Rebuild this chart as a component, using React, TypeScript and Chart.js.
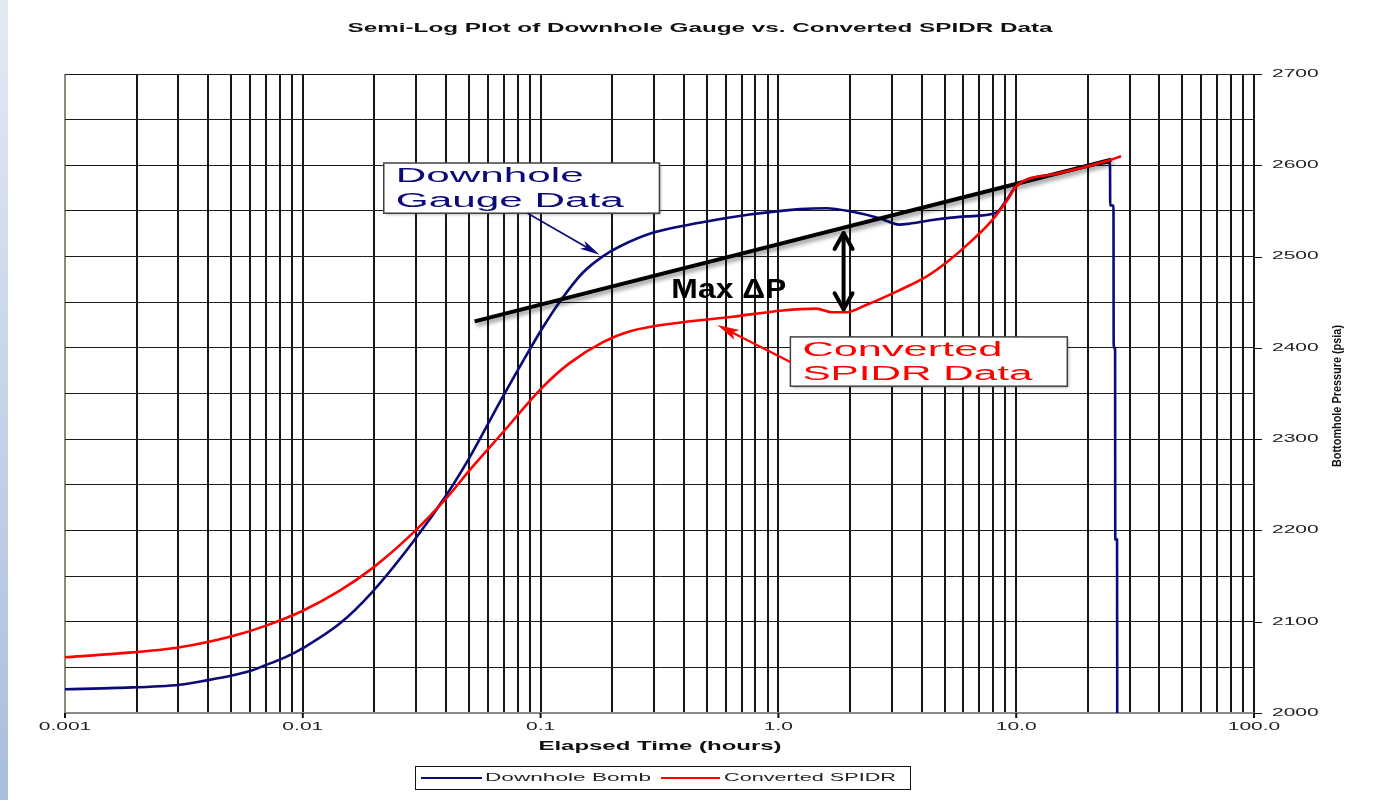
import React, { useEffect, useRef } from "react";
import { Chart, registerables } from "chart.js";

Chart.register(...registerables);

// ---------------- DATA ----------------
const downholeTime = [
  0.001, 0.00165, 0.00304, 0.00399, 0.00503, 0.00599, 0.00706, 0.008, 0.009, 0.01,
  0.0143, 0.0195, 0.029, 0.0407, 0.0503, 0.0692, 0.0899, 0.102, 0.12, 0.15,
  0.182, 0.215, 0.296, 0.466, 0.756, 1.23, 1.59, 2.05, 2.66, 3.22,
  3.55, 4.44, 6.17, 8.24, 9.0, 10.0, 15.0, 20.0, 24.8, 24.85,
  25.65, 25.7, 26.05, 26.1, 26.55, 26.6,
];
const downholePressure = [
  2026, 2027.5, 2031, 2036, 2041, 2046, 2053, 2058.5, 2064.5, 2071,
  2098, 2132, 2187, 2241, 2280, 2346, 2398, 2422, 2450, 2482,
  2500, 2511, 2526, 2537, 2546, 2552, 2553, 2549, 2542, 2535,
  2536, 2540, 2544, 2548, 2560, 2577, 2591, 2599, 2603, 2556,
  2556, 2400, 2400, 2190, 2190, 2000,
];

const spidrTime = [
  0.001, 0.00165, 0.00304, 0.00503, 0.00706, 0.01, 0.0143, 0.0197, 0.029, 0.0407,
  0.0503, 0.0692, 0.102, 0.132, 0.182, 0.236, 0.395, 0.641, 1.04, 1.44,
  1.69, 1.93, 2.34, 3.22, 4.19, 5.23, 6.54, 7.93, 9.35, 10.0,
  15.0, 20.0, 25.0, 27.6,
];
const spidrPressure = [
  2061, 2065, 2072, 2084, 2096, 2112, 2134, 2159, 2197, 2237,
  2266, 2307, 2357, 2383, 2406, 2418, 2428, 2434, 2441, 2443,
  2439, 2439, 2447, 2463, 2478, 2496, 2518, 2540, 2565, 2577,
  2591, 2599, 2606, 2610,
];

const trendTime = [0.0528, 25.1];
const trendPressure = [2429, 2606];

const xDecades = [0.001, 0.01, 0.1, 1, 10, 100];
const xTickLabels = ["0.001", "0.01", "0.1", "1.0", "10.0", "100.0"];
const yLabelValues = [2000, 2100, 2200, 2300, 2400, 2500, 2600, 2700];
const yTickLabels = ["2000", "2100", "2200", "2300", "2400", "2500", "2600", "2700"];

const legendLabels = ["Downhole Bomb", "Converted SPIDR"];
const chartTitle = "Semi-Log Plot of Downhole Gauge vs. Converted SPIDR Data";
const xTitle = "Elapsed Time (hours)";
const yTitle = "Bottomhole Pressure (psia)";
const maxDpLabel = "Max \u0394P";
const gaugeNoteLines = ["Downhole", "Gauge Data"];
const spidrNoteLines = ["Converted", "SPIDR Data"];

// ---------------- STYLE / ANNOTATION PLACEMENT ----------------
const NAVY = "#0a0a78";
const RED = "#ff0000";
const FONT = '"Liberation Sans", Arial, sans-serif';

const gaugeNote = { t0: 0.0219, t1: 0.316, pTop: 2602.5, pBot: 2547.5, widths: [188, 228] };
const spidrNote = { t0: 1.123, t1: 16.4, pTop: 2412, pBot: 2358, widths: [200, 230] };
const gaugeArrow = { from: [0.0882, 2547.5], to: [0.177, 2502] };
const spidrArrow = { from: [1.123, 2384.5], to: [0.554, 2425] };
const maxDp = { t: 1.88, pTop: 2528, pBot: 2440, labelT: 0.619, labelP: 2463 };

const gridTicks: number[] = [];
for (let e = -3; e < 2; e++) {
  for (let m = 1; m <= 9; m++) gridTicks.push(+(m * Math.pow(10, e)).toPrecision(3));
}
gridTicks.push(100);

// ---------------- HELPERS ----------------
function drawText(
  ctx: CanvasRenderingContext2D,
  s: string,
  x: number,
  y: number,
  font: string,
  color: string,
  opts: { w?: number; sx?: number; align?: CanvasTextAlign } = {}
) {
  ctx.save();
  ctx.font = font;
  ctx.fillStyle = color;
  ctx.textBaseline = "middle";
  ctx.textAlign = opts.align || "center";
  const m = ctx.measureText(s).width;
  const sx = opts.w ? opts.w / m : opts.sx || 1;
  ctx.translate(x, y);
  ctx.scale(sx, 1);
  ctx.fillText(s, 0, 0);
  ctx.restore();
}

function drawArrow(
  ctx: CanvasRenderingContext2D,
  x1: number, y1: number, x2: number, y2: number,
  color: string, lw: number, headLen: number, headW: number
) {
  const a = Math.atan2(y2 - y1, x2 - x1);
  ctx.save();
  ctx.strokeStyle = color;
  ctx.fillStyle = color;
  ctx.lineWidth = lw;
  ctx.beginPath();
  ctx.moveTo(x1, y1);
  ctx.lineTo(x2 - Math.cos(a) * headLen * 0.6, y2 - Math.sin(a) * headLen * 0.6);
  ctx.stroke();
  ctx.beginPath();
  ctx.moveTo(x2, y2);
  ctx.lineTo(x2 - Math.cos(a) * headLen + Math.sin(a) * headW / 2, y2 - Math.sin(a) * headLen - Math.cos(a) * headW / 2);
  ctx.lineTo(x2 - Math.cos(a) * headLen * 0.75, y2 - Math.sin(a) * headLen * 0.75);
  ctx.lineTo(x2 - Math.cos(a) * headLen - Math.sin(a) * headW / 2, y2 - Math.sin(a) * headLen + Math.cos(a) * headW / 2);
  ctx.closePath();
  ctx.fill();
  ctx.restore();
}

function drawNote(
  ctx: CanvasRenderingContext2D, chart: any, note: any, lines: string[], color: string
) {
  const xs = chart.scales.x, ys = chart.scales.y;
  const l = xs.getPixelForValue(note.t0), r = xs.getPixelForValue(note.t1);
  const t = ys.getPixelForValue(note.pTop), b = ys.getPixelForValue(note.pBot);
  ctx.save();
  ctx.shadowColor = "rgba(0,0,0,0.35)";
  ctx.shadowBlur = 3;
  ctx.shadowOffsetX = 2;
  ctx.shadowOffsetY = 2;
  ctx.fillStyle = "#ffffff";
  ctx.fillRect(l, t, r - l, b - t);
  ctx.restore();
  ctx.save();
  ctx.strokeStyle = "#404040";
  ctx.lineWidth = 1.5;
  ctx.strokeRect(l, t, r - l, b - t);
  ctx.restore();
  const h = b - t;
  drawText(ctx, lines[0], l + 12, t + h * 0.27, `20px ${FONT}`, color, { w: note.widths[0], align: "left" });
  drawText(ctx, lines[1], l + 12, t + h * 0.76, `20px ${FONT}`, color, { w: note.widths[1], align: "left" });
}

const decorPlugin = {
  id: "decor",
  beforeDraw(chart: any) {
    const ctx = chart.ctx as CanvasRenderingContext2D;
    ctx.save();
    ctx.fillStyle = "#ffffff";
    ctx.fillRect(0, 0, chart.width, chart.height);
    const g = ctx.createLinearGradient(0, 0, 0, chart.height);
    g.addColorStop(0, "#e3eaf4");
    g.addColorStop(1, "#a9bedc");
    ctx.fillStyle = g;
    ctx.fillRect(0, 0, 8, chart.height);
    ctx.restore();
  },
  beforeDatasetDraw(chart: any, args: any) {
    if (args.index === 1) {
      const ctx = chart.ctx;
      ctx.save();
      ctx.shadowColor = "rgba(0,0,0,0.45)";
      ctx.shadowBlur = 4;
      ctx.shadowOffsetX = 2;
      ctx.shadowOffsetY = 3;
    }
  },
  afterDatasetDraw(chart: any, args: any) {
    if (args.index === 1) chart.ctx.restore();
  },
  afterDraw(chart: any) {
    const ctx = chart.ctx as CanvasRenderingContext2D;
    const xs = chart.scales.x, ys = chart.scales.y;
    const area = chart.chartArea;

    // tick marks
    ctx.save();
    ctx.strokeStyle = "#111";
    ctx.lineWidth = 2;
    xDecades.forEach((v) => {
      const x = xs.getPixelForValue(v);
      ctx.beginPath();
      ctx.moveTo(x, area.bottom);
      ctx.lineTo(x, area.bottom + 5);
      ctx.stroke();
    });
    ctx.lineWidth = 1;
    yLabelValues.forEach((v) => {
      const y = Math.round(ys.getPixelForValue(v)) + 0.5;
      ctx.beginPath();
      ctx.moveTo(area.right, y);
      ctx.lineTo(area.right + 8, y);
      ctx.stroke();
    });
    ctx.restore();

    // tick labels
    xDecades.forEach((v, i) => {
      drawText(ctx, xTickLabels[i], xs.getPixelForValue(v), area.bottom + 14, `10.5px ${FONT}`, "#222", { sx: 2.0 });
    });
    yLabelValues.forEach((v, i) => {
      drawText(ctx, yTickLabels[i], area.right + 18, ys.getPixelForValue(v), `10.5px ${FONT}`, "#222", { sx: 2.0, align: "left" });
    });

    // titles
    drawText(ctx, chartTitle, 700, 28, `bold 13px ${FONT}`, "#111", { w: 705 });
    drawText(ctx, xTitle, 660, 747, `bold 12px ${FONT}`, "#111", { w: 243 });
    ctx.save();
    ctx.translate(1337, 396);
    ctx.rotate(-Math.PI / 2);
    drawText(ctx, yTitle, 0, 0, `bold 13px ${FONT}`, "#111", { w: 142 });
    ctx.restore();

    // legend
    ctx.save();
    ctx.fillStyle = "#fff";
    ctx.fillRect(415, 766, 495, 23);
    ctx.strokeStyle = "#111";
    ctx.lineWidth = 1;
    ctx.strokeRect(415.5, 766.5, 495, 23);
    ctx.lineWidth = 2;
    ctx.strokeStyle = NAVY;
    ctx.beginPath();
    ctx.moveTo(421, 778);
    ctx.lineTo(482, 778);
    ctx.stroke();
    ctx.strokeStyle = RED;
    ctx.beginPath();
    ctx.moveTo(661, 778);
    ctx.lineTo(720, 778);
    ctx.stroke();
    ctx.restore();
    drawText(ctx, legendLabels[0], 485, 778, `11px ${FONT}`, "#222", { w: 166, align: "left" });
    drawText(ctx, legendLabels[1], 724, 778, `11px ${FONT}`, "#222", { w: 172, align: "left" });

    // annotations
    drawNote(ctx, chart, gaugeNote, gaugeNoteLines, NAVY);
    drawNote(ctx, chart, spidrNote, spidrNoteLines, RED);
    drawArrow(
      ctx,
      xs.getPixelForValue(gaugeArrow.from[0]), ys.getPixelForValue(gaugeArrow.from[1]),
      xs.getPixelForValue(gaugeArrow.to[0]), ys.getPixelForValue(gaugeArrow.to[1]),
      NAVY, 1.6, 20, 9
    );
    drawArrow(
      ctx,
      xs.getPixelForValue(spidrArrow.from[0]), ys.getPixelForValue(spidrArrow.from[1]),
      xs.getPixelForValue(spidrArrow.to[0]), ys.getPixelForValue(spidrArrow.to[1]),
      RED, 2.2, 22, 11
    );

    // Max dP double arrow
    const mx = xs.getPixelForValue(maxDp.t);
    const yT = ys.getPixelForValue(maxDp.pTop);
    const yB = ys.getPixelForValue(maxDp.pBot);
    ctx.save();
    ctx.strokeStyle = "#000";
    ctx.lineWidth = 4;
    ctx.lineCap = "round";
    ctx.lineJoin = "round";
    ctx.beginPath();
    ctx.moveTo(mx, yT + 2);
    ctx.lineTo(mx, yB - 2);
    ctx.stroke();
    ctx.beginPath();
    ctx.moveTo(mx - 9, yT + 18);
    ctx.lineTo(mx, yT + 2);
    ctx.lineTo(mx + 9, yT + 18);
    ctx.stroke();
    ctx.beginPath();
    ctx.moveTo(mx - 9, yB - 18);
    ctx.lineTo(mx, yB - 2);
    ctx.lineTo(mx + 9, yB - 18);
    ctx.stroke();
    ctx.restore();
    drawText(
      ctx, maxDpLabel,
      xs.getPixelForValue(maxDp.labelT), ys.getPixelForValue(maxDp.labelP),
      `bold 28px ${FONT}`, "#000", { w: 115 }
    );
  },
};

export default function App() {
  const ref = useRef<HTMLCanvasElement | null>(null);

  useEffect(() => {
    if (!ref.current) return;
    const toPts = (xs: number[], ys: number[]) => xs.map((x, i) => ({ x, y: ys[i] }));
    const chart = new Chart(ref.current, {
      type: "line",
      data: {
        datasets: [
          {
            label: legendLabels[1],
            data: toPts(spidrTime, spidrPressure),
            borderColor: RED,
            borderWidth: 2.6,
            pointRadius: 0,
            cubicInterpolationMode: "monotone",
            fill: false,
          },
          {
            label: "Trend",
            data: toPts(trendTime, trendPressure),
            borderColor: "#000",
            borderWidth: 4,
            pointRadius: 0,
            tension: 0,
            fill: false,
          },
          {
            label: legendLabels[0],
            data: toPts(downholeTime, downholePressure),
            borderColor: NAVY,
            borderWidth: 2.6,
            pointRadius: 0,
            cubicInterpolationMode: "monotone",
            fill: false,
          },
        ],
      },
      options: {
        responsive: false,
        animation: false,
        devicePixelRatio: 1,
        layout: { padding: { left: 65, top: 74, right: 0, bottom: 0 } },
        plugins: {
          legend: { display: false },
          title: { display: false },
          tooltip: { enabled: false },
        },
        scales: {
          x: {
            type: "logarithmic",
            position: "bottom",
            min: 0.001,
            max: 100,
            afterBuildTicks: (s: any) => {
              s.ticks = gridTicks.map((v) => ({ value: v }));
            },
            afterFit: (s: any) => {
              s.height = 87;
            },
            ticks: { display: false },
            grid: {
              color: (c: any) => (c.tick && c.tick.value === 0.001 ? "#8c8c7a" : "#161616"),
              lineWidth: 2,
              drawTicks: false,
            },
            border: { display: false },
          },
          y: {
            type: "linear",
            position: "right",
            min: 2000,
            max: 2700,
            ticks: { display: false, stepSize: 50 },
            afterFit: (s: any) => {
              s.width = 136;
            },
            grid: {
              color: (c: any) => (c.tick && c.tick.value === 2000 ? "#8a8a8a" : "#1c1c1c"),
              lineWidth: (c: any) => (c.tick && c.tick.value === 2000 ? 2 : 1),
              drawTicks: false,
            },
            border: { display: false },
          },
        },
      } as any,
      plugins: [decorPlugin],
    });
    return () => chart.destroy();
  }, []);

  return (
    <div style={{ position: "absolute", left: 0, top: 0, width: 1390, height: 800 }}>
      <canvas ref={ref} width={1390} height={800} style={{ display: "block", width: 1390, height: 800 }} />
    </div>
  );
}
